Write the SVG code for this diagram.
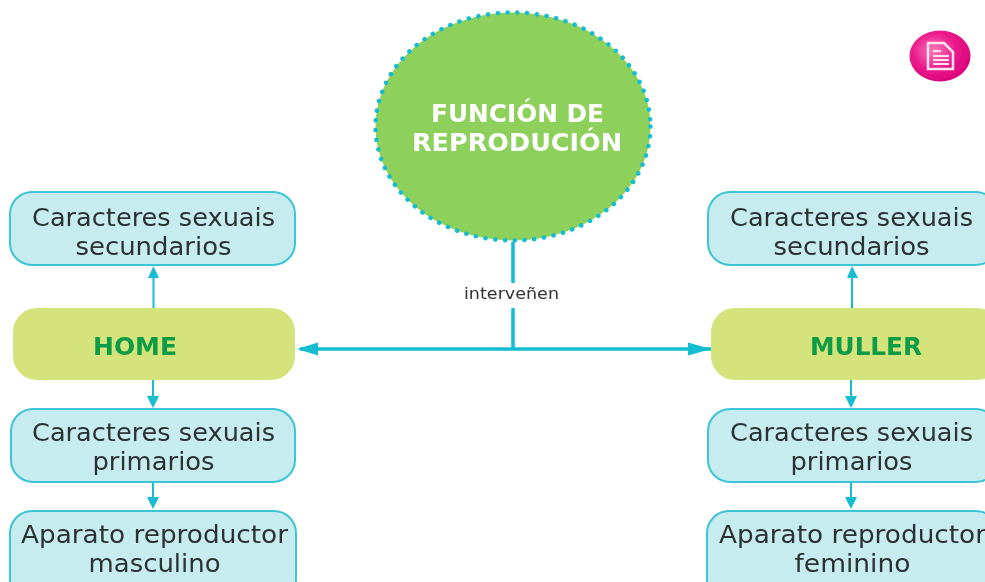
<svg xmlns="http://www.w3.org/2000/svg" width="985" height="582" viewBox="0 0 985 582">
<defs>
<style>
.box{fill:#c6ecef;stroke:#3cc4d6;stroke-width:2}
.lime{fill:#d4e37c}
.t{font-family:"DejaVu Sans",sans-serif;font-size:24.800px;fill:#2c3133;text-anchor:middle}
.h{font-family:"DejaVu Sans",sans-serif;font-size:24.800px;font-weight:700;fill:#0b9b45;text-anchor:middle}
.w{font-family:"DejaVu Sans",sans-serif;font-size:24.800px;font-weight:700;fill:#fff;text-anchor:middle}
.c{fill:none;stroke:#12bdd0}
.thin{stroke-width:2}
.thick{stroke-width:3.500}
.tip{fill:#12bdd0}
</style>
<filter id="soft" x="-5%" y="-5%" width="110%" height="110%"><feGaussianBlur stdDeviation="0.6"/></filter>
<radialGradient id="pink" cx="0.4" cy="0.4" r="0.65"><stop offset="0" stop-color="#f77ab8"/><stop offset="0.55" stop-color="#ec1a8c"/><stop offset="1" stop-color="#d9007a"/></radialGradient>
</defs>
<rect width="985" height="582" fill="#fff"/>
<g id="connectors" filter="url(#soft)">
<path class="c thick" d="M513 242V283M513 308V349M300 349H711"/>
<path class="tip" d="M297 349L318 342.500V355.500ZM711 349L688 342.500V355.500Z"/>
<path class="c thin" d="M153.500 308V275M153 380V398M153 482V500M852 308V275M851 380V398M851 482V500"/>
<path class="tip" d="M153.500 266L159 278H148ZM153 408L147 396H159ZM153 509L147 497H159ZM852 266L858 278H847ZM851 408L845 396H857ZM851 509L845 497H857Z"/>
</g>
<g id="node-funcion" filter="url(#soft)">
<ellipse cx="513" cy="126.500" rx="137.500" ry="114" fill="#8ed05c" stroke="#12bdd0" stroke-width="4.500" stroke-linecap="round" stroke-dasharray="0.100 9.700"/>
<text class="w" x="517.500" y="122" textLength="173" lengthAdjust="spacingAndGlyphs">FUNCIÓN DE</text>
<text class="w" x="517" y="151" textLength="210" lengthAdjust="spacingAndGlyphs">REPRODUCIÓN</text>
</g>
<g id="label-intervenen" filter="url(#soft)">
<text x="511.500" y="299" font-family="'DejaVu Sans',sans-serif" font-size="16" fill="#333" text-anchor="middle" textLength="95" lengthAdjust="spacingAndGlyphs">interveñen</text>
</g>
<g id="node-icon" filter="url(#soft)">
<ellipse cx="940" cy="56" rx="30.500" ry="25.500" fill="url(#pink)"/>
<path d="M928 43H944L953 52V69H928Z" fill="none" stroke="#fde4f1" stroke-width="2.500"/>
<path d="M933 51H941M933 56H949M933 60H949M933 64H949" stroke="#fde4f1" stroke-width="2"/>
</g>
<g id="node-home" filter="url(#soft)">
<rect class="lime" x="13" y="308" width="282" height="72" rx="24"/>
<text class="h" x="135" y="355" textLength="84" lengthAdjust="spacingAndGlyphs">HOME</text>
</g>
<g id="node-muller" filter="url(#soft)">
<rect class="lime" x="711" y="308" width="290" height="72" rx="24"/>
<text class="h" x="866" y="355" textLength="112" lengthAdjust="spacingAndGlyphs">MULLER</text>
</g>
<g id="node-l1" filter="url(#soft)">
<rect class="box" x="10" y="192" width="285" height="73" rx="22"/>
<text class="t" x="153.500" y="226" textLength="243" lengthAdjust="spacingAndGlyphs">Caracteres sexuais</text>
<text class="t" x="153.500" y="255" textLength="156" lengthAdjust="spacingAndGlyphs">secundarios</text>
</g>
<g id="node-l2" filter="url(#soft)">
<rect class="box" x="11" y="409" width="284" height="73" rx="22"/>
<text class="t" x="153.500" y="441" textLength="243" lengthAdjust="spacingAndGlyphs">Caracteres sexuais</text>
<text class="t" x="153.500" y="470" textLength="122" lengthAdjust="spacingAndGlyphs">primarios</text>
</g>
<g id="node-l3" filter="url(#soft)">
<rect class="box" x="10" y="511" width="286" height="90" rx="22"/>
<text class="t" x="154.500" y="543" textLength="267" lengthAdjust="spacingAndGlyphs">Aparato reproductor</text>
<text class="t" x="154.500" y="572" textLength="132" lengthAdjust="spacingAndGlyphs">masculino</text>
</g>
<g id="node-r1" filter="url(#soft)">
<rect class="box" x="708" y="192" width="290" height="73" rx="22"/>
<text class="t" x="851.500" y="226" textLength="243" lengthAdjust="spacingAndGlyphs">Caracteres sexuais</text>
<text class="t" x="851.500" y="255" textLength="156" lengthAdjust="spacingAndGlyphs">secundarios</text>
</g>
<g id="node-r2" filter="url(#soft)">
<rect class="box" x="708" y="409" width="290" height="73" rx="22"/>
<text class="t" x="851.500" y="441" textLength="243" lengthAdjust="spacingAndGlyphs">Caracteres sexuais</text>
<text class="t" x="851.500" y="470" textLength="122" lengthAdjust="spacingAndGlyphs">primarios</text>
</g>
<g id="node-r3" filter="url(#soft)">
<rect class="box" x="707" y="511" width="291" height="90" rx="22"/>
<text class="t" x="852.500" y="543" textLength="267" lengthAdjust="spacingAndGlyphs">Aparato reproductor</text>
<text class="t" x="852.500" y="572" textLength="116" lengthAdjust="spacingAndGlyphs">feminino</text>
</g>
</svg>
